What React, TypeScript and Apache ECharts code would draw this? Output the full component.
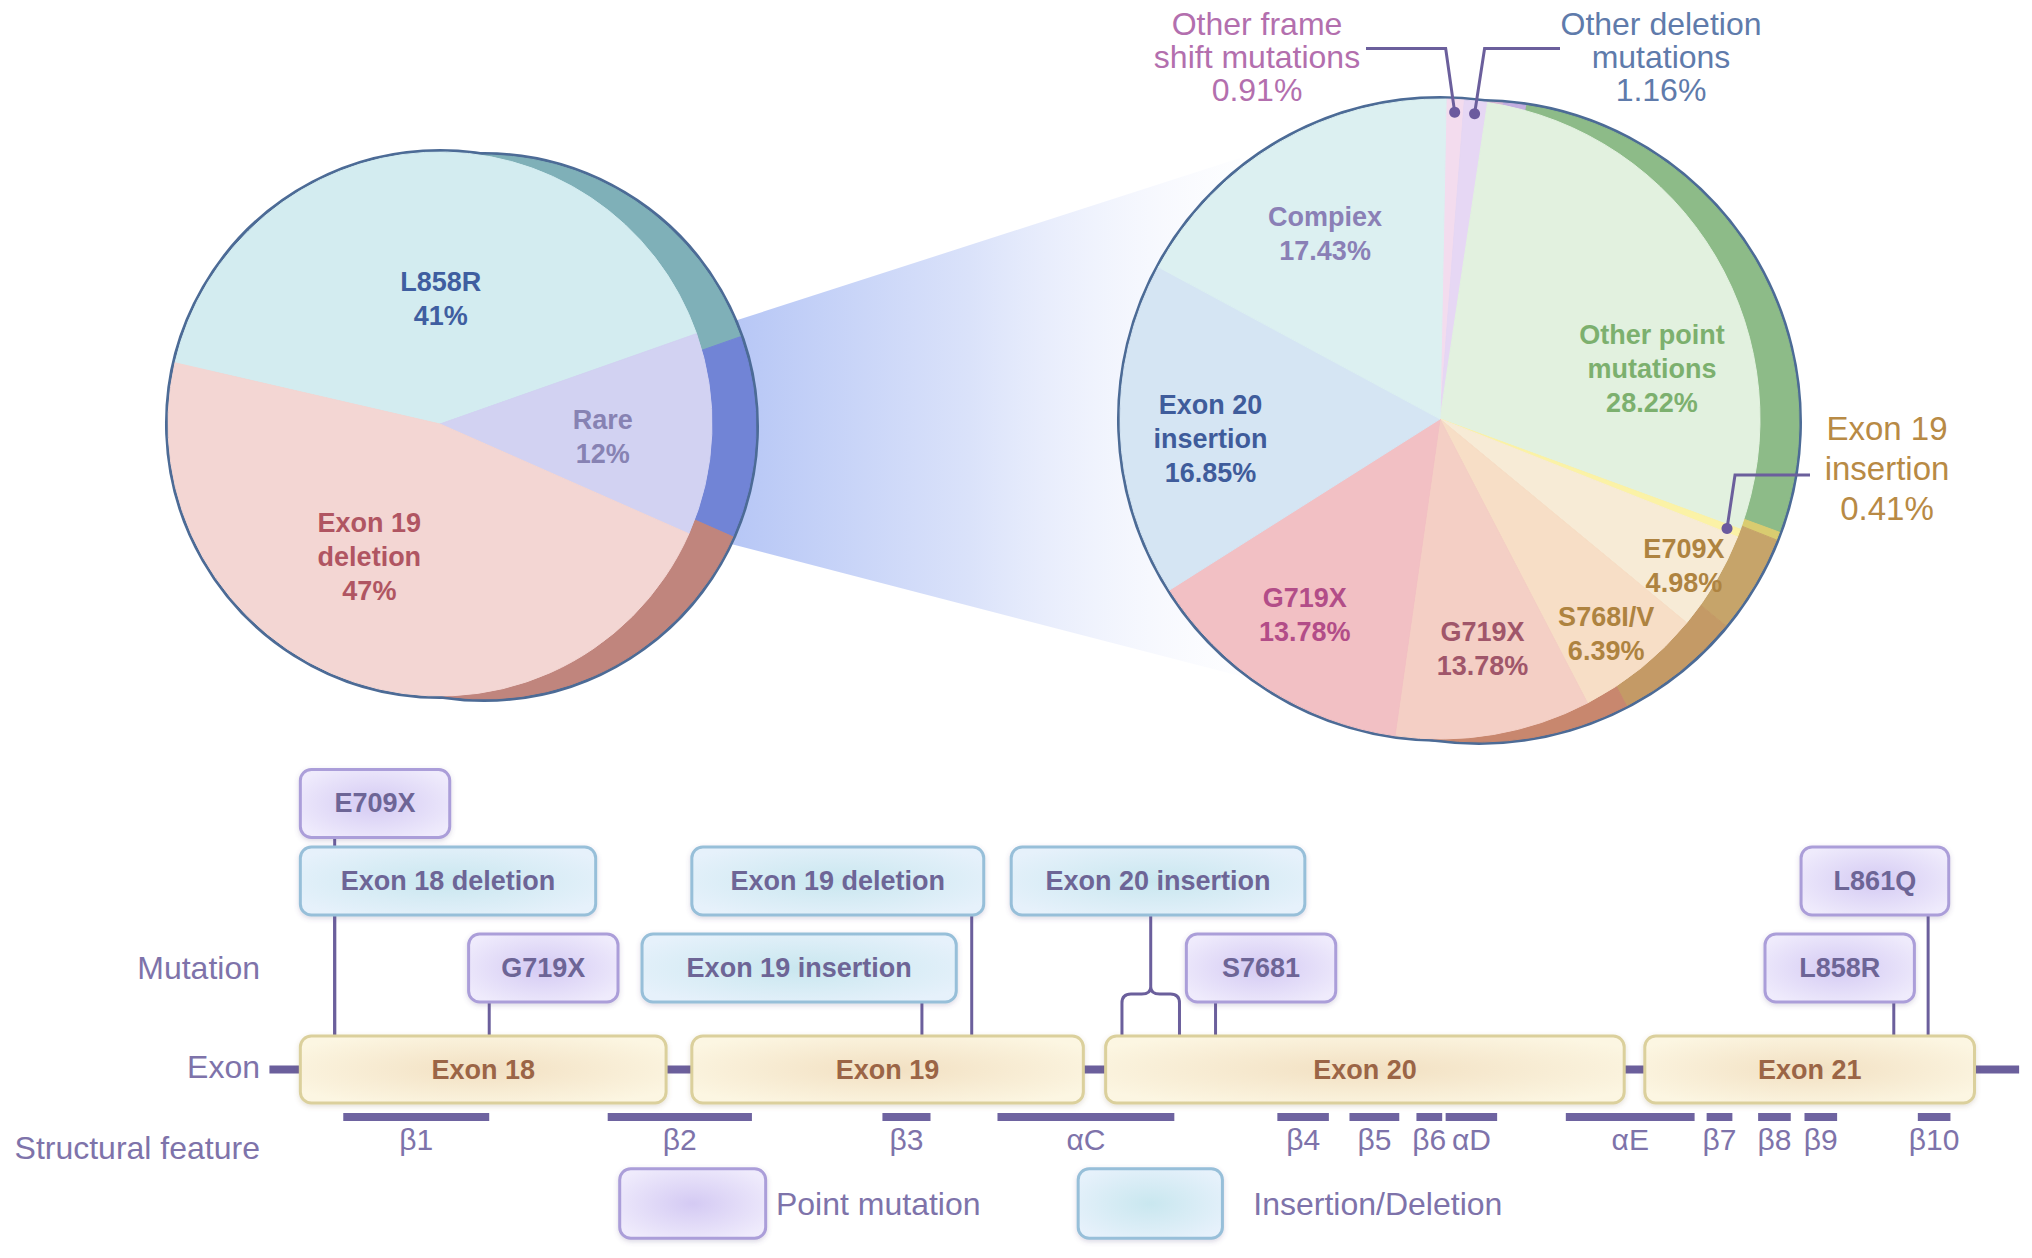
import React, { useEffect, useRef } from "react";
import * as echarts from "echarts";

const FONT = "'Liberation Sans', Arial, Helvetica, sans-serif";

// ---------------- data ----------------
// Left pie: overall EGFR mutation spectrum
const mainNames = ["L858R", "Rare", "Exon 19 deletion"];
const mainValues = [41, 12, 47];
const mainLabels = ["L858R\n41%", "Rare\n12%", "Exon 19\ndeletion\n47%"];

// Right pie: breakdown of rare mutations (clockwise from 12 o'clock)
const rareNames = [
  "Other frame shift mutations",
  "Other deletion mutations",
  "Other point mutations",
  "Exon 19 insertion",
  "E709X",
  "S768I/V",
  "G719X (b)",
  "G719X",
  "Exon 20 insertion",
  "Compiex",
];
const rareValues = [0.91, 1.16, 28.22, 0.41, 4.98, 6.39, 9.87, 13.78, 16.85, 17.43];
const rareLabels = [
  "",
  "",
  "Other point\nmutations\n28.22%",
  "",
  "E709X\n4.98%",
  "S768I/V\n6.39%",
  "G719X\n13.78%",
  "G719X\n13.78%",
  "Exon 20\ninsertion\n16.85%",
  "Compiex\n17.43%",
];
const calloutIndex = [0, 1, 3];
const calloutTexts = [
  "Other frame\nshift mutations\n0.91%",
  "Other deletion\nmutations\n1.16%",
  "Exon 19\ninsertion\n0.41%",
];

// Bottom schematic (positions along the kinase-domain track, 0-100 scale)
const exonNames = ["Exon 18", "Exon 19", "Exon 20", "Exon 21"];
const exonStart = [2.0, 24.8, 48.9, 80.3];
const exonEnd = [23.3, 47.6, 79.1, 99.5];
const trackRange = [0.2, 102.1];

const mutationNames = [
  "E709X",
  "Exon 18 deletion",
  "Exon 19 deletion",
  "Exon 20 insertion",
  "G719X",
  "Exon 19 insertion",
  "S7681",
  "L861Q",
  "L858R",
];
const mutationType = ["point", "indel", "indel", "indel", "point", "indel", "point", "point", "point"];
const mutationStart = [2.0, 2.0, 24.8, 43.4, 11.8, 21.9, 53.6, 89.4, 87.3];
const mutationEnd = [10.7, 19.2, 41.8, 60.5, 20.5, 40.2, 62.3, 98.0, 96.0];
const mutationRow = [1, 2, 2, 2, 3, 3, 3, 2, 3];
const mutationSiteFrom = [4.0, 4.0, 41.1, 49.85, 13.0, 38.2, 55.3, 96.8, 94.8];
const mutationSiteTo = [4.0, 4.0, 41.1, 53.2, 13.0, 38.2, 55.3, 96.8, 94.8];

const featureNames = ["β1", "β2", "β3", "αC", "β4", "β5", "β6", "αD", "αE", "β7", "β8", "β9", "β10"];
const featureStart = [4.5, 19.9, 35.9, 42.6, 58.9, 63.1, 67.0, 68.7, 75.7, 83.9, 86.9, 89.6, 96.2];
const featureEnd = [13.0, 28.3, 38.7, 52.9, 61.9, 66.0, 68.5, 71.7, 83.2, 85.4, 88.8, 91.5, 98.1];

const rowLabelNames = ["Mutation", "Exon", "Structural feature"];
const legendNames = ["Point mutation", "Insertion/Deletion"];
const legendType = ["point", "indel"];

// ---------------- layout ----------------
const W = 2032;
const H = 1258;
const MAIN_C = [440, 424];
const MAIN_R = 272;
const MAIN_RIM = [44, 3];
const MAIN_START = 167;
const RARE_C = [1440, 419];
const RARE_R = 320;
const RARE_RIM = [39, 3];
const RARE_START = 88.9;

const mainLabelRadius = [0.46, 0.6, 0.555];
const mainLabelTurn = [3.5, 2.3, 9.5];
const rareLabelRadius = [0, 0, 0.68, 0, 0.89, 0.85, 0.73, 0.745, 0.72, 0.68];
const rareLabelTurn = [0, 0, 17.5, 0, 0.5, 1.3, -0.8, 1.7, -3, -1.6];

const calloutLayout = [
  { text: [1257, 57], elbowY: 48.5, endX: 1366, dx: -9, size: 32, lh: 33 },
  { text: [1661, 57], elbowY: 48.5, endX: 1560, dx: 10, size: 32, lh: 33 },
  { text: [1887, 468], elbowY: 475, endX: 1810, dx: 8, size: 33, lh: 40 },
];

const LEVEL = {
  rows: [0, 8.73, 24.3, 41.77],
  exon: 62.15,
  feature: 71.69,
  featureLabel: 76.3,
  bracketTop: 45.6,
  legend: 89.06,
};
const rowLabelLevel = [41.77, 61.6, 77.9];
const rowLabelX = -0.35;
const legendStart = [20.6, 47.3];
const legendEnd = [29.1, 55.7];
const legendTextX = [29.7, 57.5];
const BOX_H = 13.65;
const EXON_H = 13.45;

// ---------------- styles ----------------
const OUTLINE = "#4c6b96";
const LINE = "#6b5f9c";
const GRAY_TEXT = "#7e73aa";
const BOX_TEXT = "#6d6596";
const mainFront = ["#d3ecf0", "#d2d2f2", "#f3d6d3"];
const mainRim = ["#7fb0b8", "#7184d6", "#c0857d"];
const mainText = ["#3f5ea0", "#8782b3", "#b05562"];
const rareFront = ["#f3dcee", "#e6d7f4", "#e2f1df", "#fbf2a6", "#f7ebd6", "#f7dec6", "#f4cfc5", "#f2c0c4", "#d5e5f3", "#dcf0f1"];
const rareRim = ["#d7b5d2", "#c3aee0", "#8dbb88", "#d9cc70", "#c6a46a", "#c49a66", "#c8876e", "#c47a7c", "#95aed0", "#93c2c8"];
const rareText = ["#b36fae", "#5f7bab", "#7cb06e", "#b88a45", "#ae8340", "#ae8340", "#a0566a", "#b24d88", "#3f5c9b", "#8a80b6"];

function midAngles(values: number[], startAngle: number) {
  const total = values.reduce((a, b) => a + b, 0);
  let acc = 0;
  return values.map((v) => {
    const m = 90 - startAngle + ((acc + v / 2) / total) * 360;
    acc += v;
    return m;
  });
}
function polar(c: number[], r: number, deg: number) {
  const a = (deg * Math.PI) / 180;
  return [c[0] + r * Math.sin(a), c[1] - r * Math.cos(a)];
}

function outlinePie(center: number[], radius: number) {
  return {
    type: "pie",
    silent: true,
    z: 1,
    center,
    radius,
    label: { show: false },
    labelLine: { show: false },
    data: [{ value: 1, name: "outline", itemStyle: { color: "rgba(0,0,0,0)", borderColor: OUTLINE, borderWidth: 6 } }],
  };
}

function fillPie(center: number[], radius: number, values: number[], names: string[], colors: string[], start: number, z: number, extra: any = {}) {
  return {
    type: "pie",
    silent: true,
    z,
    center,
    radius,
    startAngle: start,
    clockwise: true,
    avoidLabelOverlap: false,
    label: { show: false },
    labelLine: { show: false },
    data: values.map((v, i) => ({
      value: v,
      name: names[i],
      itemStyle: { color: colors[i], borderColor: colors[i], borderWidth: 1 },
    })),
    ...extra,
  };
}

function radial(c0: string, c1: string) {
  return new echarts.graphic.RadialGradient(0.5, 0.5, 0.6, [
    { offset: 0, color: c0 },
    { offset: 1, color: c1 },
  ]);
}
function boxFill(type: string) {
  return type === "point" ? radial("#d4caf3", "#efebfc") : radial("#c9e7ef", "#e6f1fb");
}
function boxStroke(type: string) {
  return type === "point" ? "#ab9ed9" : "#97bfd9";
}

function buildOption() {
  const mainMid = midAngles(mainValues, MAIN_START);
  const rareMid = midAngles(rareValues, RARE_START);
  const mainPts = mainMid.map((m, i) => polar(MAIN_C, MAIN_R * mainLabelRadius[i], m + mainLabelTurn[i]));
  const rarePts = rareMid.map((m, i) => polar(RARE_C, RARE_R * rareLabelRadius[i], m + rareLabelTurn[i]));

  const labelBase = { show: true, position: "inside", fontFamily: FONT, fontWeight: "bold", fontSize: 27, lineHeight: 34 };

  const mainFrontSeries: any = fillPie(MAIN_C, MAIN_R, mainValues, mainNames, mainFront, MAIN_START, 3);
  mainFrontSeries.label = { ...labelBase, formatter: (p: any) => mainLabels[p.dataIndex] };
  mainFrontSeries.data.forEach((d: any, i: number) => (d.label = { color: mainText[i] }));
  mainFrontSeries.labelLayout = (p: any) => ({ x: mainPts[p.dataIndex][0], y: mainPts[p.dataIndex][1], align: "center", verticalAlign: "middle" });

  const rareFrontSeries: any = fillPie(RARE_C, RARE_R, rareValues, rareNames, rareFront, RARE_START, 3);
  rareFrontSeries.label = { ...labelBase, formatter: (p: any) => rareLabels[p.dataIndex] };
  rareFrontSeries.data.forEach((d: any, i: number) => (d.label = { color: rareText[i], show: rareLabels[i] !== "" }));
  rareFrontSeries.labelLayout = (p: any) => ({ x: rarePts[p.dataIndex][0], y: rarePts[p.dataIndex][1], align: "center", verticalAlign: "middle" });

  const mainRimC = [MAIN_C[0] + MAIN_RIM[0], MAIN_C[1] + MAIN_RIM[1]];
  const rareRimC = [RARE_C[0] + RARE_RIM[0], RARE_C[1] + RARE_RIM[1]];

  // callouts for tiny slices
  const calloutEls: any[] = [];
  calloutIndex.forEach((idx, k) => {
    const L = calloutLayout[k];
    const dot = polar(RARE_C, RARE_R * 0.96, rareMid[idx]);
    calloutEls.push({
      type: "polyline",
      z: 20,
      shape: { points: [dot, [dot[0] + L.dx, L.elbowY], [L.endX, L.elbowY]] },
      style: { stroke: LINE, lineWidth: 3, fill: null },
    });
    calloutEls.push({ type: "circle", z: 21, shape: { cx: dot[0], cy: dot[1], r: 5.5 }, style: { fill: "#6b5a9e" } });
    calloutEls.push({
      type: "text",
      z: 21,
      style: {
        text: calloutTexts[k],
        x: L.text[0],
        y: L.text[1],
        align: "center",
        verticalAlign: "middle",
        fill: rareText[idx],
        fontFamily: FONT,
        fontSize: L.size,
        lineHeight: L.lh,
      },
    });
  });

  const connector = {
    type: "polygon",
    z: 0,
    shape: { points: [[700, 332], [1240, 158], [1240, 676], [700, 536]] },
    style: {
      fill: new echarts.graphic.LinearGradient(0, 0, 1, 0, [
        { offset: 0, color: "rgba(178,195,245,1)" },
        { offset: 0.5, color: "rgba(218,226,250,1)" },
        { offset: 1, color: "rgba(245,247,254,0.2)" },
      ]),
    },
  };

  const cart = { coordinateSystem: "cartesian2d", xAxisIndex: 0, yAxisIndex: 0, silent: true, clip: false };

  const trackSeries = {
    type: "custom",
    ...cart,
    z: 1,
    data: [[trackRange[0], trackRange[1], LEVEL.exon]],
    renderItem: (params: any, api: any) => {
      const p0 = api.coord([api.value(0), api.value(2)]);
      const p1 = api.coord([api.value(1), api.value(2)]);
      return { type: "line", shape: { x1: p0[0], y1: p0[1], x2: p1[0], y2: p1[1] }, style: { stroke: LINE, lineWidth: 8 } };
    },
  };

  const connectorSeries = {
    type: "custom",
    ...cart,
    z: 1,
    data: mutationNames.map((n, i) => [mutationSiteFrom[i], mutationSiteTo[i], LEVEL.rows[mutationRow[i]]]),
    renderItem: (params: any, api: any) => {
      const from = api.value(0);
      const to = api.value(1);
      const lvl = api.value(2);
      const boxBottom = api.coord([from, lvl + BOX_H / 2])[1];
      const exonTop = api.coord([from, LEVEL.exon - EXON_H / 2])[1];
      const style = { stroke: LINE, lineWidth: 3, fill: "none" };
      if (from === to) {
        const x = api.coord([from, lvl])[0];
        return { type: "line", shape: { x1: x, y1: boxBottom, x2: x, y2: exonTop }, style };
      }
      const xl = api.coord([from, lvl])[0];
      const xr = api.coord([to, lvl])[0];
      const cx = (xl + xr) / 2;
      const yt = api.coord([from, LEVEL.bracketTop])[1];
      const d =
        `M ${cx} ${boxBottom} L ${cx} ${yt} ` +
        `M ${cx} ${yt} Q ${cx} ${yt + 7} ${cx - 9} ${yt + 7} L ${xl + 9} ${yt + 7} Q ${xl} ${yt + 7} ${xl} ${yt + 16} L ${xl} ${exonTop} ` +
        `M ${cx} ${yt} Q ${cx} ${yt + 7} ${cx + 9} ${yt + 7} L ${xr - 9} ${yt + 7} Q ${xr} ${yt + 7} ${xr} ${yt + 16} L ${xr} ${exonTop}`;
      return { type: "path", shape: { pathData: d }, style };
    },
  };

  const boxText = (text: string, x: number, y: number, color: string, size = 27) => ({
    type: "text",
    style: { text, x, y, align: "center", verticalAlign: "middle", fill: color, fontFamily: FONT, fontWeight: "bold", fontSize: size },
  });

  const exonSeries = {
    type: "custom",
    ...cart,
    z: 2,
    data: exonNames.map((n, i) => [exonStart[i], exonEnd[i], LEVEL.exon]),
    renderItem: (params: any, api: any) => {
      const i = params.dataIndex;
      const lvl = api.value(2);
      const p0 = api.coord([api.value(0), lvl - EXON_H / 2]);
      const p1 = api.coord([api.value(1), lvl + EXON_H / 2]);
      return {
        type: "group",
        children: [
          {
            type: "rect",
            shape: { x: p0[0], y: p0[1], width: p1[0] - p0[0], height: p1[1] - p0[1], r: 11 },
            style: {
              fill: radial("#f2e0c2", "#fcf6e2"),
              stroke: "#dbd09c",
              lineWidth: 3,
              shadowBlur: 5,
              shadowColor: "rgba(120,100,60,0.2)",
              shadowOffsetY: 2,
            },
          },
          boxText(exonNames[i], (p0[0] + p1[0]) / 2, (p0[1] + p1[1]) / 2, "#9b6546"),
        ],
      };
    },
  };

  const mutationSeries = {
    type: "custom",
    ...cart,
    z: 3,
    data: mutationNames.map((n, i) => [mutationStart[i], mutationEnd[i], LEVEL.rows[mutationRow[i]]]),
    renderItem: (params: any, api: any) => {
      const i = params.dataIndex;
      const lvl = api.value(2);
      const p0 = api.coord([api.value(0), lvl - BOX_H / 2]);
      const p1 = api.coord([api.value(1), lvl + BOX_H / 2]);
      const t = mutationType[i];
      return {
        type: "group",
        children: [
          {
            type: "rect",
            shape: { x: p0[0], y: p0[1], width: p1[0] - p0[0], height: p1[1] - p0[1], r: 11 },
            style: {
              fill: boxFill(t),
              stroke: boxStroke(t),
              lineWidth: 3,
              shadowBlur: 5,
              shadowColor: "rgba(90,80,130,0.22)",
              shadowOffsetY: 2,
            },
          },
          boxText(mutationNames[i], (p0[0] + p1[0]) / 2, (p0[1] + p1[1]) / 2, BOX_TEXT),
        ],
      };
    },
  };

  const featureSeries = {
    type: "custom",
    ...cart,
    z: 2,
    data: featureNames.map((n, i) => [featureStart[i], featureEnd[i], LEVEL.feature]),
    renderItem: (params: any, api: any) => {
      const i = params.dataIndex;
      const p0 = api.coord([api.value(0), api.value(2)]);
      const p1 = api.coord([api.value(1), api.value(2)]);
      const ly = api.coord([api.value(0), LEVEL.featureLabel])[1];
      return {
        type: "group",
        children: [
          { type: "rect", shape: { x: p0[0], y: p0[1] - 4, width: p1[0] - p0[0], height: 8 }, style: { fill: "#6e63a0" } },
          {
            type: "text",
            style: {
              text: featureNames[i],
              x: (p0[0] + p1[0]) / 2,
              y: ly,
              align: "center",
              verticalAlign: "middle",
              fill: GRAY_TEXT,
              fontFamily: FONT,
              fontSize: 30,
            },
          },
        ],
      };
    },
  };

  const rowLabelSeries = {
    type: "custom",
    ...cart,
    z: 2,
    data: rowLabelNames.map((n, i) => [rowLabelX, rowLabelLevel[i]]),
    renderItem: (params: any, api: any) => {
      const p = api.coord([api.value(0), api.value(1)]);
      return {
        type: "text",
        style: {
          text: rowLabelNames[params.dataIndex],
          x: p[0],
          y: p[1],
          align: "right",
          verticalAlign: "middle",
          fill: GRAY_TEXT,
          fontFamily: FONT,
          fontSize: 32,
        },
      };
    },
  };

  const legendSeries = {
    type: "custom",
    ...cart,
    z: 3,
    data: legendNames.map((n, i) => [legendStart[i], legendEnd[i], LEVEL.legend, legendTextX[i]]),
    renderItem: (params: any, api: any) => {
      const i = params.dataIndex;
      const lvl = api.value(2);
      const p0 = api.coord([api.value(0), lvl - (BOX_H + 0.3) / 2]);
      const p1 = api.coord([api.value(1), lvl + (BOX_H + 0.3) / 2]);
      const tx = api.coord([api.value(3), lvl]);
      const t = legendType[i];
      return {
        type: "group",
        children: [
          {
            type: "rect",
            shape: { x: p0[0], y: p0[1], width: p1[0] - p0[0], height: p1[1] - p0[1], r: 11 },
            style: { fill: boxFill(t), stroke: boxStroke(t), lineWidth: 3, shadowBlur: 5, shadowColor: "rgba(90,80,130,0.22)", shadowOffsetY: 2 },
          },
          {
            type: "text",
            style: { text: legendNames[i], x: tx[0], y: tx[1], align: "left", verticalAlign: "middle", fill: GRAY_TEXT, fontFamily: FONT, fontSize: 32 },
          },
        ],
      };
    },
  };

  return {
    animation: false,
    backgroundColor: "#ffffff",
    textStyle: { fontFamily: FONT },
    grid: { left: 266, right: 6, top: 760, bottom: 0 },
    xAxis: { type: "value", min: 0, max: 102.5, show: false },
    yAxis: { type: "value", min: 0, max: 100, inverse: true, show: false },
    graphic: { elements: [connector, ...calloutEls] },
    series: [
      outlinePie(MAIN_C, MAIN_R),
      outlinePie(mainRimC, MAIN_R),
      fillPie(mainRimC, MAIN_R, mainValues, mainNames, mainRim, MAIN_START, 2),
      mainFrontSeries,
      outlinePie(RARE_C, RARE_R),
      outlinePie(rareRimC, RARE_R),
      fillPie(rareRimC, RARE_R, rareValues, rareNames, rareRim, RARE_START, 2),
      rareFrontSeries,
      trackSeries,
      connectorSeries,
      exonSeries,
      mutationSeries,
      featureSeries,
      rowLabelSeries,
      legendSeries,
    ],
  };
}

export default function App() {
  const ref = useRef<HTMLDivElement>(null);
  useEffect(() => {
    if (!ref.current) return;
    const chart = echarts.init(ref.current, undefined, { renderer: "svg" });
    chart.setOption(buildOption() as any);
    return () => chart.dispose();
  }, []);
  return (
    <div
      ref={ref}
      style={{ position: "absolute", left: 0, top: 0, width: W, height: H, background: "#ffffff" }}
    />
  );
}
